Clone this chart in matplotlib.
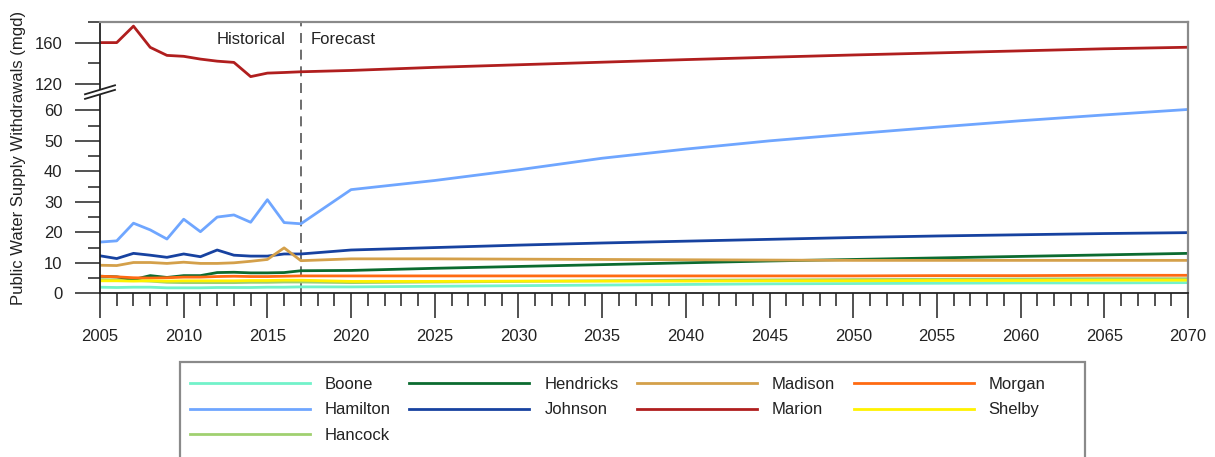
import numpy as np
import matplotlib
matplotlib.use("Agg")
import matplotlib.pyplot as plt
from matplotlib.patches import Rectangle, Polygon

plt.rcParams['font.family'] = ['Liberation Sans', 'DejaVu Sans']

# historical annual values, then forecast every 5 years
hist_years = list(range(2005, 2018))
fc_years = list(range(2020, 2071, 5))
years = hist_years + fc_years

counties = ['Boone', 'Hamilton', 'Hancock', 'Hendricks', 'Johnson',
            'Madison', 'Marion', 'Morgan', 'Shelby']

boone = [2.0, 1.9, 2.0, 2.0, 1.8, 1.8, 1.8, 1.9, 1.9, 1.9, 2.0, 2.0, 2.1,
         2.1, 2.3, 2.5, 2.7, 2.9, 3.1, 3.2, 3.3, 3.4, 3.4, 3.5]
hamilton = [16.8, 17.2, 23.0, 20.8, 17.8, 24.3, 20.2, 25.0, 25.7, 23.3, 30.7, 23.2, 22.8,
            34.0, 37.0, 40.5, 44.3, 47.3, 50.0, 52.3, 54.5, 56.6, 58.5, 60.3]
hancock = [4.5, 4.4, 4.3, 4.0, 3.6, 3.5, 3.5, 3.5, 3.5, 3.6, 3.6, 3.7, 3.7,
           3.5, 3.7, 3.9, 4.1, 4.3, 4.4, 4.5, 4.6, 4.7, 4.8, 4.8]
hendricks = [5.6, 5.4, 4.5, 5.8, 5.2, 5.8, 5.8, 6.8, 6.9, 6.7, 6.7, 6.8, 7.4,
             7.5, 8.2, 8.8, 9.4, 10.0, 10.6, 11.1, 11.6, 12.1, 12.6, 13.1]
johnson = [12.3, 11.4, 13.1, 12.5, 11.8, 12.9, 12.0, 14.2, 12.5, 12.2, 12.2, 12.9, 12.9,
           14.2, 15.0, 15.8, 16.5, 17.1, 17.7, 18.3, 18.8, 19.2, 19.6, 19.9]
madison = [9.2, 9.1, 10.1, 10.1, 9.8, 10.2, 9.8, 9.8, 10.0, 10.5, 11.1, 14.9, 10.7,
           11.3, 11.3, 11.2, 11.1, 11.0, 10.9, 10.8, 10.8, 10.8, 10.8, 10.8]
marion = [160, 160, 176, 155.4, 147.6, 146.7, 144, 142, 140.8, 127, 130.4, 131, 131.7,
          133, 136, 138.5, 141, 143.5, 145.8, 148, 150, 152, 154, 155.5]
morgan = [5.6, 5.4, 5.1, 5.0, 5.1, 5.3, 5.3, 5.5, 5.6, 5.5, 5.5, 5.6, 5.7,
          5.7, 5.7, 5.7, 5.7, 5.7, 5.7, 5.7, 5.8, 5.8, 5.9, 5.9]
shelby = [4.1, 4.1, 4.0, 4.1, 4.0, 4.1, 4.1, 4.1, 4.1, 4.2, 4.2, 4.3, 4.3,
          3.9, 3.9, 4.0, 4.0, 4.0, 4.1, 4.1, 4.2, 4.2, 4.3, 4.3]

series = [boone, hamilton, hancock, hendricks, johnson, madison, marion, morgan, shelby]
colors = ['#72F2CA', '#6FA6FF', '#A0D070', '#0B6B30', '#1742A0',
          '#D4A04A', '#B01E1E', '#FF6A12', '#FFF200']

y_major = [0, 10, 20, 30, 40, 50, 60, 120, 160]
y_minor = [5, 15, 25, 35, 45, 55, 140, 180]

# broken y axis: 0-66 full scale, 112-180 compressed
B, U0, R = 66.0, 112.0, 0.338


def fwd(v):
    v = np.asarray(v, float)
    return np.where(v <= B, v, np.where(v < U0, B, B + (v - U0) * R))


def inv(t):
    t = np.asarray(t, float)
    return np.where(t <= B, t, U0 + (t - B) / R)


W, H = 1215, 457
fig = plt.figure(figsize=(W / 100, H / 100), dpi=100)
ax = fig.add_axes([100 / W, 1 - 293.3 / H, 1088 / W, 271.3 / H])
ax.set_yscale('function', functions=(fwd, inv))

for name, vals, c in zip(counties, series, colors):
    ax.plot(years, vals, color=c, lw=2.0, label=name)

ax.set_xlim(2005, 2070)
ax.set_ylim(0, 180)
ax.set_xticks(range(2005, 2071, 5))
ax.set_xticks(range(2005, 2071), minor=True)
ax.set_yticks(y_major)
ax.set_yticklabels([str(v) for v in y_major])
ax.set_yticks(y_minor, minor=True)

ax.tick_params(which='major', direction='out', length=18, width=1.1, color='#222222',
               labelsize=12, labelcolor='#222222')
ax.tick_params(which='minor', direction='out', length=9, width=1.1, color='#222222')
ax.tick_params(axis='x', which='major', pad=8)
ax.tick_params(axis='y', which='major', pad=9)

for s in ['top', 'right']:
    ax.spines[s].set_color('#8a8a8a')
    ax.spines[s].set_linewidth(1.6)
for s in ['left', 'bottom']:
    ax.spines[s].set_color('#222222')
    ax.spines[s].set_linewidth(1.3)

ax.set_ylabel('Public Water Supply Withdrawals (mgd)', fontsize=12, color='#222222')
ax.yaxis.set_label_coords(-74 / 1088, 0.5)

# historical / forecast divider
ax.axvline(2017, color='#555555', lw=1.2, ls=(0, (6, 4)), zorder=1)
ax.annotate('Historical', xy=(2017, 0.935), xycoords=('data', 'axes fraction'),
            xytext=(-11, 0), textcoords='offset points', ha='right', va='center',
            fontsize=12, color='#222222')
ax.annotate('Forecast', xy=(2017, 0.935), xycoords=('data', 'axes fraction'),
            xytext=(7, 0), textcoords='offset points', ha='left', va='center',
            fontsize=12, color='#222222')

# axis break marks on the left spine
yb = B / float(fwd(180))
dx, dy, g = 15 / 1088, 4.5 / 271.3, 2.3 / 271.3
ax.add_patch(Polygon([(-dx, yb - dy - g), (dx, yb + dy - g), (dx, yb + dy + g), (-dx, yb - dy + g)],
                     closed=True, transform=ax.transAxes, facecolor='white', edgecolor='none',
                     clip_on=False, zorder=5))
for off in (-g, g):
    ax.plot([-dx, dx], [yb - dy + off, yb + dy + off], transform=ax.transAxes,
            color='#222222', lw=1.3, clip_on=False, zorder=6)

# legend with a fixed frame below the plot
leg = ax.legend(ncol=4, loc='upper left', bbox_to_anchor=(180 / W, 1 - 367 / H),
                bbox_transform=fig.transFigure, frameon=False, fontsize=12,
                handlelength=7.2, handletextpad=0.9, columnspacing=1.1,
                labelspacing=0.62, borderpad=0.6, borderaxespad=0)
for t in leg.get_texts():
    t.set_color('#222222')
fig.patches.append(Rectangle((180 / W, -0.02), 905 / W, 1.02 - 362 / H,
                             transform=fig.transFigure, facecolor='none',
                             edgecolor='#8a8a8a', lw=1.6))

fig.savefig('out.png', dpi=100)
